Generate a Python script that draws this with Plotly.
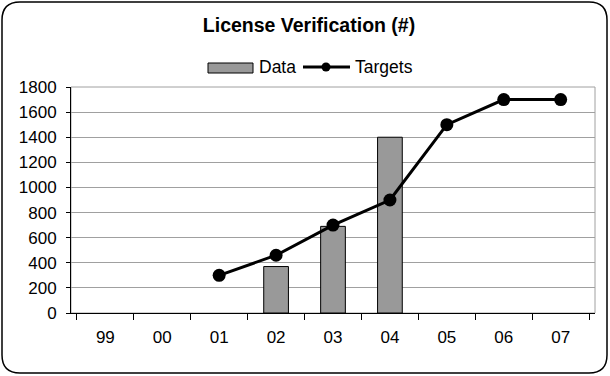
import plotly.graph_objects as go

# Chart data
years = ["99", "00", "01", "02", "03", "04", "05", "06", "07"]
data_values = [None, None, None, 370, 690, 1400, None, None, None]
target_values = [None, None, 300, 460, 700, 900, 1500, 1700, 1700]
y_ticks = [0, 200, 400, 600, 800, 1000, 1200, 1400, 1600, 1800]

W, H = 610, 376
ML, MR, MT, MB = 71, 15, 87, 63
PW, PH = W - ML - MR, H - MT - MB
FONT = "Liberation Sans, Arial, sans-serif"


def px_to_paper(x, y):
    return (x - ML) / PW, (H - MB - y) / PH


fig = go.Figure()
fig.add_trace(go.Bar(
    x=years, y=data_values, name="Data",
    marker=dict(color="#999999", line=dict(color="#000000", width=1)),
))
fig.add_trace(go.Scatter(
    x=years, y=target_values, name="Targets", mode="lines+markers",
    line=dict(color="#000000", width=3),
    marker=dict(color="#000000", size=13),
))

# Rounded outer frame
x0, y0 = px_to_paper(2, 2)
x1, y1 = px_to_paper(607, 373)
rx = 18 / PW
ry = 18 / PH
path = (
    f"M {x0 + rx},{y0} L {x1 - rx},{y0} Q {x1},{y0} {x1},{y0 - ry} "
    f"L {x1},{y1 + ry} Q {x1},{y1} {x1 - rx},{y1} "
    f"L {x0 + rx},{y1} Q {x0},{y1} {x0},{y1 + ry} "
    f"L {x0},{y0 - ry} Q {x0},{y0} {x0 + rx},{y0} Z"
)
fig.add_shape(type="path", path=path, xref="paper", yref="paper",
              line=dict(color="#000000", width=1.5), layer="above")

# Plot-area border (grey on top/right)
fig.add_shape(type="rect", x0=0, x1=1, y0=0, y1=1, xref="paper", yref="paper",
              line=dict(color="#a0a0a0", width=1), layer="below")

# Legend drawn as shapes + text
lx0, ly0 = px_to_paper(208, 63)
lx1, ly1 = px_to_paper(253, 73)
fig.add_shape(type="rect", x0=lx0, x1=lx1, y0=ly0, y1=ly1, xref="paper", yref="paper",
              fillcolor="#999999", line=dict(color="#000000", width=1))
ax0, ay = px_to_paper(303, 67)
ax1, _ = px_to_paper(350, 67)
fig.add_shape(type="line", x0=ax0, x1=ax1, y0=ay, y1=ay, xref="paper", yref="paper",
              line=dict(color="#000000", width=3))
mx, _ = px_to_paper(326, 67)
rmx, rmy = 4.5 / PW, 4.5 / PH
fig.add_shape(type="circle", x0=mx - rmx, x1=mx + rmx, y0=ay - rmy, y1=ay + rmy,
              xref="paper", yref="paper", fillcolor="#000000",
              line=dict(color="#000000", width=0))
for label, px in (("Data", 257), ("Targets", 353)):
    xa, ya = px_to_paper(px, 67)
    fig.add_annotation(text=label, x=xa, y=ya, xref="paper", yref="paper",
                       xanchor="left", yanchor="middle", showarrow=False,
                       font=dict(family=FONT, size=17.5, color="#000000"))

tx, _ = px_to_paper(309, 24)
fig.update_layout(
    width=W, height=H,
    margin=dict(l=ML, r=MR, t=MT, b=MB),
    paper_bgcolor="#ffffff", plot_bgcolor="#ffffff",
    font=dict(family=FONT, size=17, color="#000000"),
    title=dict(text="<b>License Verification (#)</b>", x=tx, xref="paper",
               y=1 - 25 / H, yref="container", xanchor="center", yanchor="middle",
               font=dict(size=19.5)),
    showlegend=False,
    bargap=0.566,
    xaxis=dict(
        type="category", showgrid=False, showline=True, linecolor="#000000",
        linewidth=1, ticks="outside", tickson="boundaries", ticklen=6,
        tickcolor="#000000", tickfont=dict(size=17), ticklabelstandoff=9,
    ),
    yaxis=dict(
        range=[0, 1800], tickvals=y_ticks, showgrid=True, gridcolor="#a0a0a0",
        gridwidth=1, showline=True, linecolor="#000000", linewidth=1,
        ticks="outside", ticklen=4, tickcolor="#000000", tickfont=dict(size=17),
        zeroline=False, ticklabelstandoff=6,
    ),
)

fig.write_html("out.html")
